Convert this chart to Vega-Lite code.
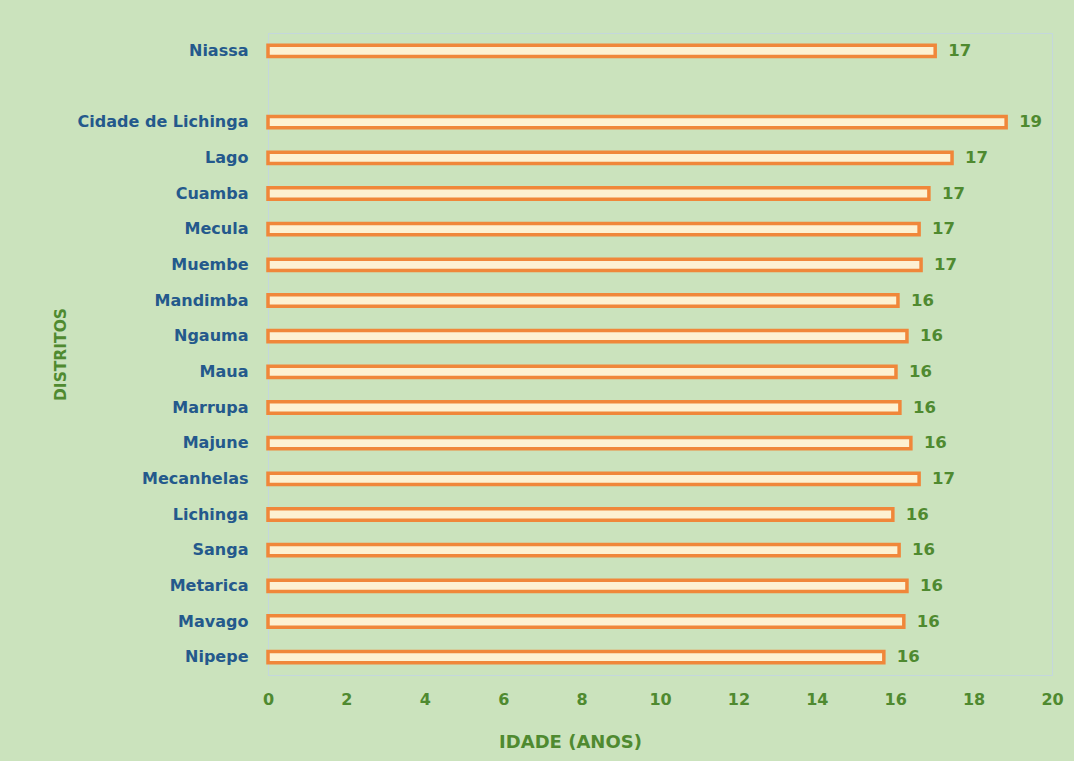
{
  "$schema": "https://vega.github.io/schema/vega-lite/v6.json",
  "autosize": "none",
  "width": 784,
  "height": 642,
  "padding": {"left": 268, "top": 33, "right": 22, "bottom": 86},
  "background": "#cbe3bd",
  "config": {
    "view": {"stroke": "#c4d7dc", "strokeWidth": 1},
    "font": "DejaVu Sans"
  },
  "data": {
    "values": [
      {"distrito": "Niassa", "idade": 17.02},
      {"distrito": "Cidade de Lichinga", "idade": 18.83},
      {"distrito": "Lago", "idade": 17.45},
      {"distrito": "Cuamba", "idade": 16.86},
      {"distrito": "Mecula", "idade": 16.61},
      {"distrito": "Muembe", "idade": 16.66},
      {"distrito": "Mandimba", "idade": 16.07},
      {"distrito": "Ngauma", "idade": 16.3},
      {"distrito": "Maua", "idade": 16.02},
      {"distrito": "Marrupa", "idade": 16.12},
      {"distrito": "Majune", "idade": 16.4},
      {"distrito": "Mecanhelas", "idade": 16.61},
      {"distrito": "Lichinga", "idade": 15.94},
      {"distrito": "Sanga", "idade": 16.1},
      {"distrito": "Metarica", "idade": 16.3},
      {"distrito": "Mavago", "idade": 16.22},
      {"distrito": "Nipepe", "idade": 15.71}
    ]
  },
  "encoding": {
    "y": {
      "field": "distrito",
      "type": "nominal",
      "scale": {
        "domain": ["Niassa", " ", "Cidade de Lichinga", "Lago", "Cuamba", "Mecula", "Muembe", "Mandimba", "Ngauma", "Maua", "Marrupa", "Majune", "Mecanhelas", "Lichinga", "Sanga", "Metarica", "Mavago", "Nipepe"],
        "paddingInner": 0.68,
        "paddingOuter": 0.34
      },
      "axis": {
        "title": "DISTRITOS",
        "titleColor": "#4f8a30",
        "titleFont": "DejaVu Sans",
        "titleFontSize": 15.5,
        "titleFontWeight": "bold",
        "titlePadding": 9,
        "labelColor": "#24598c",
        "labelFont": "DejaVu Sans",
        "labelFontSize": 16,
        "labelFontWeight": "bold",
        "labelPadding": 20,
        "ticks": false,
        "domainColor": "#c4d7dc",
        "grid": false
      }
    },
    "x": {
      "field": "idade",
      "type": "quantitative",
      "scale": {"domain": [0, 20], "nice": false},
      "axis": {
        "title": "IDADE (ANOS)",
        "titleColor": "#4f8a30",
        "titleFont": "DejaVu Sans",
        "titleFontSize": 18,
        "titleFontWeight": "bold",
        "titlePadding": 26,
        "titleX": 302,
        "values": [0, 2, 4, 6, 8, 10, 12, 14, 16, 18, 20],
        "labelColor": "#4f8a30",
        "labelFont": "DejaVu Sans",
        "labelFontSize": 16,
        "labelFontWeight": "bold",
        "labelPadding": 16,
        "labelFlush": false,
        "ticks": false,
        "domainColor": "#c4d7dc",
        "grid": false
      }
    }
  },
  "layer": [
    {
      "mark": {"type": "bar", "fill": "#fdf1d2", "stroke": "#f0873a", "strokeWidth": 3.5}
    },
    {
      "mark": {"type": "text", "align": "left", "dx": 13, "fontSize": 16.5, "fontWeight": "bold", "color": "#4f8a30", "font": "DejaVu Sans"},
      "encoding": {
        "text": {"field": "idade", "type": "quantitative", "format": ".0f"}
      }
    }
  ]
}
